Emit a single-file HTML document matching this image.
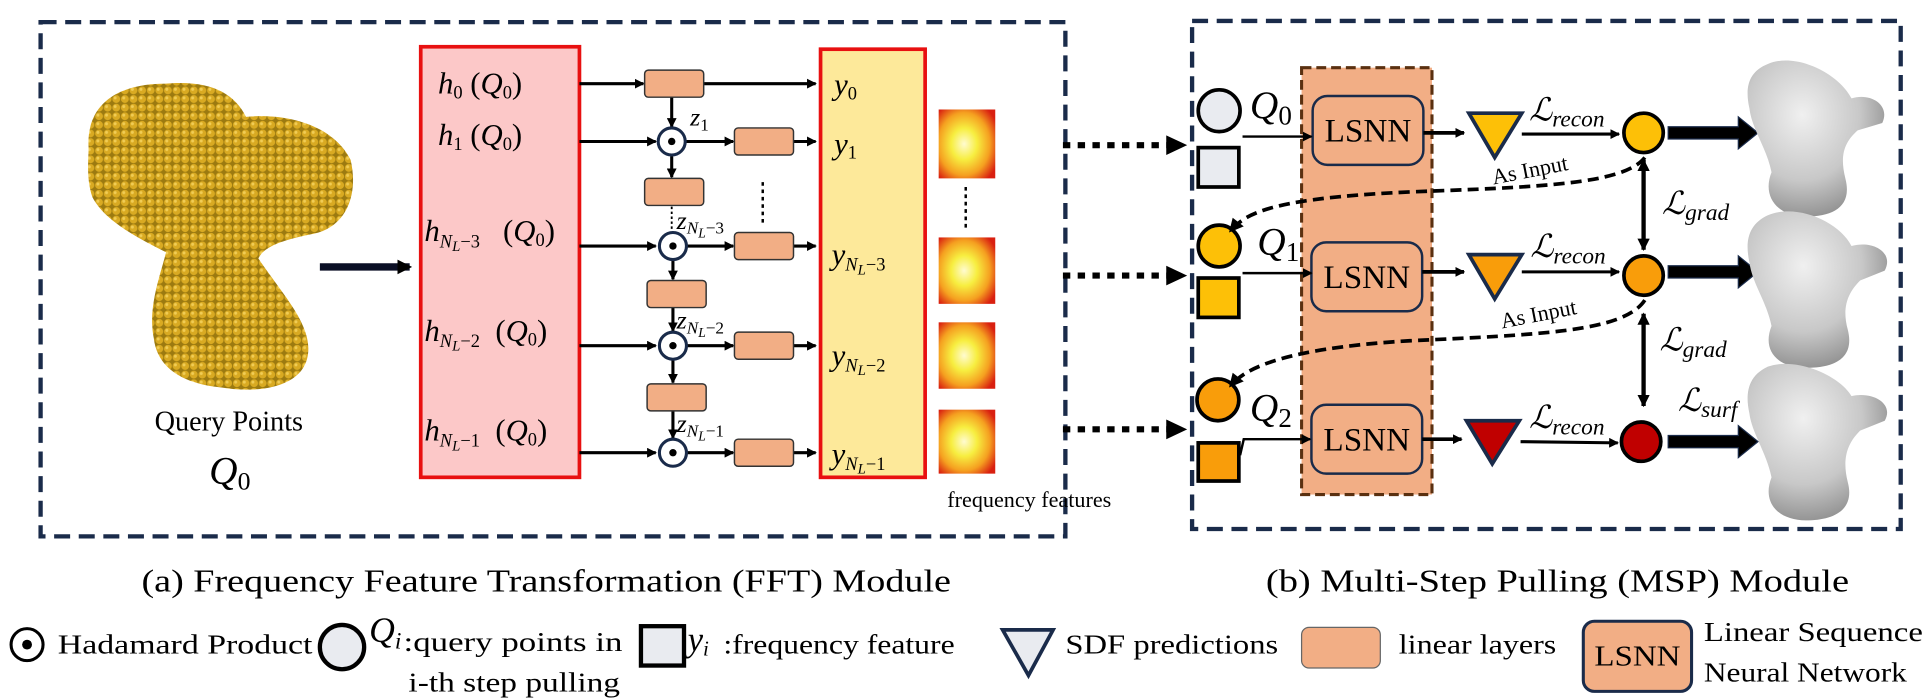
<!DOCTYPE html>
<html><head><meta charset="utf-8"><style>
html,body{margin:0;padding:0;background:#fff}
svg{display:block}
text{font-family:"Liberation Serif",serif;fill:#000}
.m{font-style:italic}
</style></head><body>
<svg width="1929" height="700" viewBox="0 0 1568 569" xmlns="http://www.w3.org/2000/svg">
<defs>
<marker id="ah" markerWidth="8" markerHeight="8" refX="7" refY="4" orient="auto" markerUnits="userSpaceOnUse"><path d="M0,0L8,4L0,8z" fill="#000"/></marker>
<marker id="ahb" markerWidth="12" markerHeight="12" refX="10" refY="6" orient="auto" markerUnits="userSpaceOnUse"><path d="M0,0L12,6L0,12z" fill="#000"/></marker>
<marker id="ahs" markerWidth="10" markerHeight="10" refX="9" refY="5" orient="auto-start-reverse" markerUnits="userSpaceOnUse"><path d="M0,0L10,5L0,10z" fill="#000"/></marker>
<pattern id="dots" width="7" height="7" patternUnits="userSpaceOnUse"><rect width="7" height="7" fill="#9c7a10"/><circle cx="3.5" cy="3.5" r="3.2" fill="#d9aa22"/><circle cx="2.6" cy="2.6" r="1.2" fill="#f0cc55"/></pattern>
<radialGradient id="gg" cx="40%" cy="35%" r="70%"><stop offset="0" stop-color="#f0f0f0"/><stop offset="0.6" stop-color="#c8c8c8"/><stop offset="1" stop-color="#8a8a8a"/></radialGradient>
<radialGradient id="fi" cx="45%" cy="50%" r="65%"><stop offset="0" stop-color="#fffbd0"/><stop offset="0.35" stop-color="#f7ee40"/><stop offset="0.7" stop-color="#f5a020"/><stop offset="1" stop-color="#d92010"/></radialGradient>
</defs>

<rect x="33" y="18" width="833" height="418" fill="none" stroke="#1a2b4a" stroke-width="3.5" stroke-dasharray="13 7"/>
<rect x="969" y="17" width="576" height="413" fill="none" stroke="#1a2b4a" stroke-width="3.5" stroke-dasharray="13 7"/>

<path d="M72,120 C70,85 95,68 135,68 C170,65 190,75 200,95 C230,92 270,100 285,130 C292,160 280,185 255,190 C230,195 215,200 210,210 C230,240 255,265 250,290 C245,315 210,320 180,315 C150,312 128,300 125,275 C120,250 130,225 135,205 C115,195 85,180 75,160 C70,145 72,130 72,120z" fill="url(#dots)"/>
<line x1="260" y1="217" x2="333" y2="217" stroke="#0b0f25" stroke-width="6" marker-end="url(#ahb)"/>
<text x="186" y="350" font-size="23" text-anchor="middle">Query Points</text>
<text x="170" y="393" font-size="32" class="m">Q<tspan font-size="21" dy="5" font-style="normal">0</tspan></text>

<rect x="342" y="38" width="129" height="350" fill="#fcc8c8" stroke="#e81010" stroke-width="3"/>
<g font-size="25">
<text x="356" y="76" class="m">h<tspan font-size="15" dy="4" font-style="normal">0</tspan><tspan dy="-4" font-style="normal"> (</tspan>Q<tspan font-size="15" dy="4" font-style="normal">0</tspan><tspan dy="-4" font-style="normal">)</tspan></text>
<text x="356" y="118" class="m">h<tspan font-size="15" dy="4" font-style="normal">1</tspan><tspan dy="-4" font-style="normal"> (</tspan>Q<tspan font-size="15" dy="4" font-style="normal">0</tspan><tspan dy="-4" font-style="normal">)</tspan></text>
<text x="345" y="196" class="m">h<tspan font-size="15" dy="5">N<tspan font-size="12" dy="3">L</tspan><tspan font-style="normal" dy="-3">−3</tspan></tspan><tspan dy="-5" font-style="normal" xml:space="preserve">   (</tspan>Q<tspan font-size="15" dy="4" font-style="normal">0</tspan><tspan dy="-4" font-style="normal">)</tspan></text>
<text x="345" y="277" class="m">h<tspan font-size="15" dy="5">N<tspan font-size="12" dy="3">L</tspan><tspan font-style="normal" dy="-3">−2</tspan></tspan><tspan dy="-5" font-style="normal" xml:space="preserve">  (</tspan>Q<tspan font-size="15" dy="4" font-style="normal">0</tspan><tspan dy="-4" font-style="normal">)</tspan></text>
<text x="345" y="358" class="m">h<tspan font-size="15" dy="5">N<tspan font-size="12" dy="3">L</tspan><tspan font-style="normal" dy="-3">−1</tspan></tspan><tspan dy="-5" font-style="normal" xml:space="preserve">  (</tspan>Q<tspan font-size="15" dy="4" font-style="normal">0</tspan><tspan dy="-4" font-style="normal">)</tspan></text>
</g>

<g stroke="#000" stroke-width="2.5" fill="none">
<line x1="471" y1="68" x2="523" y2="68" marker-end="url(#ah)"/>
<line x1="471" y1="115" x2="533" y2="115" marker-end="url(#ah)"/>
<line x1="471" y1="200" x2="533" y2="200" marker-end="url(#ah)"/>
<line x1="471" y1="281" x2="533" y2="281" marker-end="url(#ah)"/>
<line x1="471" y1="368" x2="533" y2="368" marker-end="url(#ah)"/>
<line x1="572" y1="68" x2="663" y2="68" marker-end="url(#ah)"/>
<line x1="546" y1="79" x2="546" y2="103" marker-end="url(#ah)"/>
<line x1="546" y1="127" x2="546" y2="144" marker-end="url(#ah)"/>
<line x1="547" y1="212" x2="547" y2="227" marker-end="url(#ah)"/>
<line x1="547" y1="250" x2="547" y2="269" marker-end="url(#ah)"/>
<line x1="547" y1="293" x2="547" y2="311" marker-end="url(#ah)"/>
<line x1="547" y1="334" x2="547" y2="356" marker-end="url(#ah)"/>
<line x1="558" y1="115" x2="596" y2="115" marker-end="url(#ah)"/>
<line x1="558" y1="200" x2="596" y2="200" marker-end="url(#ah)"/>
<line x1="558" y1="281" x2="596" y2="281" marker-end="url(#ah)"/>
<line x1="558" y1="368" x2="596" y2="368" marker-end="url(#ah)"/>
<line x1="645" y1="115" x2="663" y2="115" marker-end="url(#ah)"/>
<line x1="645" y1="200" x2="663" y2="200" marker-end="url(#ah)"/>
<line x1="645" y1="281" x2="663" y2="281" marker-end="url(#ah)"/>
<line x1="645" y1="368" x2="663" y2="368" marker-end="url(#ah)"/>
</g>
<line x1="546" y1="168" x2="546" y2="188" stroke="#000" stroke-width="1.5" stroke-dasharray="2 2"/>
<line x1="620" y1="148" x2="620" y2="181" stroke="#000" stroke-width="2" stroke-dasharray="3 3"/>
<g fill="#f2ae85" stroke="#333" stroke-width="1.2">
<rect x="524" y="57" width="48" height="22" rx="3"/>
<rect x="524" y="145" width="48" height="22" rx="3"/>
<rect x="526" y="228" width="48" height="22" rx="3"/>
<rect x="526" y="312" width="48" height="22" rx="3"/>
<rect x="597" y="104" width="48" height="22" rx="3"/>
<rect x="597" y="189" width="48" height="22" rx="3"/>
<rect x="597" y="270" width="48" height="22" rx="3"/>
<rect x="597" y="357" width="48" height="22" rx="3"/>
</g>
<g fill="#fff" stroke="#1a2b4a" stroke-width="2.5">
<circle cx="546" cy="115" r="11"/><circle cx="547" cy="200" r="11"/><circle cx="547" cy="281" r="11"/><circle cx="547" cy="368" r="11"/>
</g>
<g fill="#000"><circle cx="546" cy="115" r="3"/><circle cx="547" cy="200" r="3"/><circle cx="547" cy="281" r="3"/><circle cx="547" cy="368" r="3"/></g>
<g font-size="21" class="m">
<text x="561" y="102">z<tspan font-size="14" font-style="normal" dy="4">1</tspan></text>
<text x="550" y="186">z<tspan font-size="14" dy="4">N<tspan font-size="11" dy="3">L</tspan><tspan font-style="normal" dy="-3">−3</tspan></tspan></text>
<text x="550" y="267">z<tspan font-size="14" dy="4">N<tspan font-size="11" dy="3">L</tspan><tspan font-style="normal" dy="-3">−2</tspan></tspan></text>
<text x="550" y="351">z<tspan font-size="14" dy="4">N<tspan font-size="11" dy="3">L</tspan><tspan font-style="normal" dy="-3">−1</tspan></tspan></text>
</g>

<rect x="667" y="40" width="85" height="348" fill="#fde99a" stroke="#e81010" stroke-width="3"/>
<g font-size="25" class="m">
<text x="678" y="77">y<tspan font-size="15" font-style="normal" dy="4">0</tspan></text>
<text x="678" y="125">y<tspan font-size="15" font-style="normal" dy="4">1</tspan></text>
<text x="676" y="215">y<tspan font-size="15" dy="5">N<tspan font-size="12" dy="3">L</tspan><tspan font-style="normal" dy="-3">−3</tspan></tspan></text>
<text x="676" y="297">y<tspan font-size="15" dy="5">N<tspan font-size="12" dy="3">L</tspan><tspan font-style="normal" dy="-3">−2</tspan></tspan></text>
<text x="676" y="377">y<tspan font-size="15" dy="5">N<tspan font-size="12" dy="3">L</tspan><tspan font-style="normal" dy="-3">−1</tspan></tspan></text>
</g>
<g>
<rect x="763" y="89" width="46" height="56" fill="url(#fi)"/>
<rect x="763" y="193" width="46" height="54" fill="url(#fi)"/>
<rect x="763" y="262" width="46" height="54" fill="url(#fi)"/>
<rect x="763" y="333" width="46" height="52" fill="url(#fi)"/>
</g>
<line x1="785" y1="152" x2="785" y2="185" stroke="#000" stroke-width="2" stroke-dasharray="3 3"/>
<text x="770" y="412" font-size="18">frequency features</text>

<g stroke="#000" stroke-width="5" stroke-dasharray="6 6" fill="none">
<line x1="864" y1="118" x2="950" y2="118"/>
<line x1="864" y1="224" x2="950" y2="224"/>
<line x1="864" y1="349" x2="950" y2="349"/>
</g>
<g fill="#000"><path d="M948,110L965,118L948,126z"/><path d="M948,216L965,224L948,232z"/><path d="M948,341L965,349L948,357z"/></g>

<rect x="1058" y="55" width="106" height="347" fill="#f2ae85" stroke="#5a3010" stroke-width="2.5" stroke-dasharray="8 4"/>
<g fill="#f2ae85" stroke="#1a2b4a" stroke-width="2">
<rect x="1067" y="78" width="90" height="56" rx="12"/>
<rect x="1066" y="197" width="90" height="56" rx="12"/>
<rect x="1066" y="329" width="90" height="56" rx="12"/>
</g>
<g font-size="27" text-anchor="middle"><text x="1112" y="115">LSNN</text><text x="1111" y="234">LSNN</text><text x="1111" y="366">LSNN</text></g>
<g stroke="#000" stroke-width="3">
<circle cx="991" cy="90" r="17" fill="#e9ebf0"/>
<rect x="974" y="120" width="33" height="32" fill="#e9ebf0"/>
<circle cx="991" cy="200" r="17" fill="#fdc007"/>
<rect x="974" y="226" width="33" height="32" fill="#fdc007"/>
<circle cx="990" cy="325" r="17" fill="#f99d0a"/>
<rect x="974" y="360" width="33" height="31" fill="#f99d0a"/>
</g>
<g font-size="32" class="m">
<text x="1016" y="96">Q<tspan font-size="22" font-style="normal" dy="5">0</tspan></text>
<text x="1022" y="207">Q<tspan font-size="22" font-style="normal" dy="5">1</tspan></text>
<text x="1016" y="342">Q<tspan font-size="22" font-style="normal" dy="5">2</tspan></text>
</g>
<g stroke="#000" stroke-width="2" fill="none">
<line x1="1010" y1="111" x2="1066" y2="111" marker-end="url(#ah)"/>
<line x1="1010" y1="222" x2="1066" y2="222" marker-end="url(#ah)"/>
<polyline points="1008,370 1011,357 1065,357" marker-end="url(#ah)"/>
<line x1="1157" y1="108" x2="1190" y2="108" stroke-width="3" marker-end="url(#ah)"/>
<line x1="1156" y1="221" x2="1190" y2="221" stroke-width="3" marker-end="url(#ah)"/>
<line x1="1156" y1="357" x2="1188" y2="357" stroke-width="3" marker-end="url(#ah)"/>
<line x1="1237" y1="109" x2="1316" y2="109" stroke-width="2.5" marker-end="url(#ah)"/>
<line x1="1237" y1="221" x2="1316" y2="221" stroke-width="2.5" marker-end="url(#ah)"/>
<line x1="1236" y1="359" x2="1315" y2="360" stroke-width="2.5" marker-end="url(#ah)"/>
<line x1="1336" y1="130" x2="1336" y2="203" stroke-width="3.5" marker-start="url(#ahs)" marker-end="url(#ahs)"/>
<line x1="1336" y1="255" x2="1336" y2="330" stroke-width="3.5" marker-start="url(#ahs)" marker-end="url(#ahs)"/>
</g>
<g fill="#000" stroke="#1a2b4a" stroke-width="1">
<path d="M1356,103h57v-8l16,13l-16,13v-8h-57z"/>
<path d="M1356,216h57v-8l16,13l-16,13v-8h-57z"/>
<path d="M1356,354h57v-8l16,13l-16,13v-8h-57z"/>
</g>
<g stroke="#1a2b4a" stroke-width="3">
<path d="M1194,92L1237,92L1215,128z" fill="#fdc007"/>
<path d="M1194,207L1237,207L1215,243z" fill="#f99d0a"/>
<path d="M1192,342L1235,342L1213,377z" fill="#c00000"/>
</g>
<g stroke="#000" stroke-width="3">
<circle cx="1336" cy="108" r="16" fill="#fdc007"/>
<circle cx="1336" cy="224" r="16" fill="#f99d0a"/>
<circle cx="1334" cy="359" r="16" fill="#c00000"/>
</g>
<g font-size="26" class="m">
<text x="1243" y="98">ℒ<tspan font-size="19" dy="5">recon</tspan></text>
<text x="1244" y="209">ℒ<tspan font-size="19" dy="5">recon</tspan></text>
<text x="1243" y="348">ℒ<tspan font-size="19" dy="5">recon</tspan></text>
<text x="1351" y="174">ℒ<tspan font-size="19" dy="5">grad</tspan></text>
<text x="1349" y="285">ℒ<tspan font-size="19" dy="5">grad</tspan></text>
<text x="1364" y="334">ℒ<tspan font-size="19" dy="5">surf</tspan></text>
</g>
<g stroke="#000" stroke-width="3" stroke-dasharray="9 5" fill="none">
<path d="M1337,128 C1320,150 1250,152 1146,156 C1060,160 1020,168 1005,183"/>
<path d="M1337,244 C1320,270 1250,272 1146,277 C1060,282 1020,295 1005,309"/>
</g>
<g fill="#000"><path d="M999,189L1002,177L1011,184z"/><path d="M999,315L1002,303L1011,310z"/></g>
<g font-size="18"><text x="1214" y="150" transform="rotate(-11 1214 150)">As Input</text><text x="1221" y="267" transform="rotate(-11 1221 267)">As Input</text></g>
<g fill="url(#gg)">
<path d="M1437,52 C1460,42 1495,60 1505,80 C1520,75 1537,85 1530,100 L1510,106 C1500,115 1495,125 1500,145 C1506,168 1490,176 1468,176 C1445,176 1432,160 1440,140 C1436,120 1424,105 1422,88 C1418,70 1422,58 1437,52z"/>
<path d="M1437,175 C1460,165 1495,180 1505,200 C1522,195 1540,205 1532,220 L1512,228 C1502,238 1497,250 1502,268 C1508,292 1490,299 1468,299 C1445,299 1432,285 1440,265 C1436,245 1424,230 1422,213 C1418,195 1422,182 1437,175z"/>
<path d="M1437,298 C1460,290 1495,305 1505,322 C1522,318 1540,328 1532,342 L1512,350 C1502,360 1497,372 1502,392 C1508,415 1490,423 1468,423 C1445,423 1432,408 1440,388 C1436,368 1424,352 1422,336 C1418,318 1422,305 1437,298z"/>
</g>

<text x="115" y="481" font-size="26" textLength="658" lengthAdjust="spacingAndGlyphs">(a) Frequency Feature Transformation (FFT) Module</text>
<text x="1029" y="481" font-size="26" textLength="474" lengthAdjust="spacingAndGlyphs">(b) Multi-Step Pulling (MSP) Module</text>

<circle cx="22" cy="524" r="13" fill="#fff" stroke="#000" stroke-width="2.5"/><circle cx="22" cy="524" r="4" fill="#000"/>
<text x="47" y="531" font-size="22" textLength="207" lengthAdjust="spacingAndGlyphs">Hadamard Product</text>
<ellipse cx="278" cy="526" rx="18" ry="18" fill="#e9ebf0" stroke="#000" stroke-width="3.5"/>
<text x="300" y="522" font-size="29" class="m">Q<tspan font-size="19" dy="5">i</tspan></text>
<text x="328" y="529" font-size="22" textLength="178" lengthAdjust="spacingAndGlyphs">:query points in</text>
<text x="332" y="562" font-size="22" textLength="172" lengthAdjust="spacingAndGlyphs">i-th step pulling</text>
<rect x="521" y="509" width="35" height="32" fill="#e9ebf0" stroke="#000" stroke-width="3.5"/>
<text x="559" y="529" font-size="28" class="m">y<tspan font-size="17" dy="4">i</tspan></text>
<text x="588" y="531" font-size="22" textLength="188" lengthAdjust="spacingAndGlyphs">:frequency feature</text>
<path d="M815,512L856,512L836,549z" fill="#e9ebf0" stroke="#1a2b4a" stroke-width="3"/>
<text x="866" y="531" font-size="22" textLength="173" lengthAdjust="spacingAndGlyphs">SDF predictions</text>
<rect x="1058" y="510" width="64" height="33" rx="6" fill="#f2ae85" stroke="#666" stroke-width="1"/>
<text x="1137" y="531" font-size="22" textLength="128" lengthAdjust="spacingAndGlyphs">linear layers</text>
<rect x="1287" y="505" width="88" height="57" rx="9" fill="#f2ae85" stroke="#1a2b4a" stroke-width="2.5"/>
<text x="1331" y="541" font-size="23" text-anchor="middle" textLength="70" lengthAdjust="spacingAndGlyphs">LSNN</text>
<text x="1385" y="521" font-size="22" textLength="178" lengthAdjust="spacingAndGlyphs">Linear Sequence</text>
<text x="1385" y="554" font-size="22" textLength="165" lengthAdjust="spacingAndGlyphs">Neural Network</text>
</svg>
</body></html>
